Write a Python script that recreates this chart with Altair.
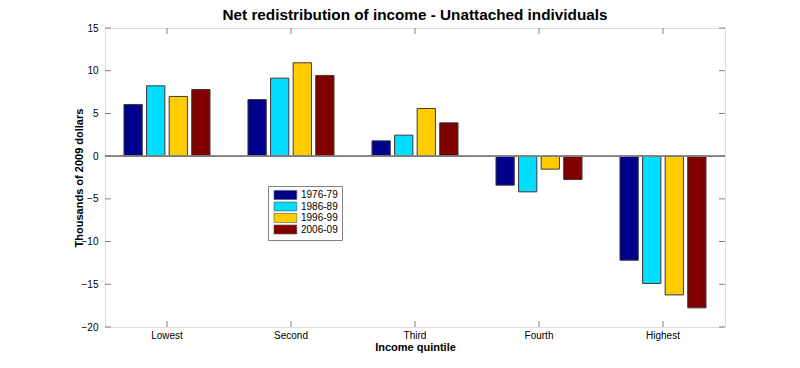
import altair as alt
import pandas as pd

quintiles = ["Lowest", "Second", "Third", "Fourth", "Highest"]
periods = ["1976-79", "1986-89", "1996-99", "2006-09"]
v_1976 = [6.05, 6.63, 1.79, -3.40, -12.18]
v_1986 = [8.23, 9.13, 2.46, -4.18, -14.90]
v_1996 = [6.99, 10.93, 5.58, -1.52, -16.24]
v_2006 = [7.80, 9.45, 3.90, -2.73, -17.76]
y_tick_values = [-20, -15, -10, -5, 0, 5, 10, 15]
colors = ["#00008C", "#00DDFF", "#FFCC00", "#800000"]

rows = []
for p, vals in zip(periods, [v_1976, v_1986, v_1996, v_2006]):
    for q, v in zip(quintiles, vals):
        rows.append({"quintile": q, "period": p, "value": v})
df = pd.DataFrame(rows)
df_q = pd.DataFrame({"quintile": quintiles})
df_y = pd.DataFrame({"value": y_tick_values})

W, H = 620, 299
FONT = "Liberation Sans"
GRAY = "#808080"

xscale = alt.Scale(domain=quintiles, paddingInner=0, paddingOuter=0)
yscale = alt.Scale(domain=[-20, 15], nice=False, zero=False)

xenc = alt.X("quintile:N", scale=xscale, sort=quintiles,
             axis=alt.Axis(title="Income quintile", labelAngle=0, ticks=False, domain=False,
                           labelPadding=3, labelFontSize=10, labelFont=FONT, labelColor="black",
                           titleFont=FONT, titleFontSize=11, titleFontWeight="bold",
                           titleColor="black", titleY=20, titleBaseline="middle"))
yenc = alt.Y("value:Q", scale=yscale,
             axis=alt.Axis(title="Thousands of 2009 dollars", values=y_tick_values, ticks=False,
                           domain=False, grid=False, labelPadding=7, labelFontSize=10,
                           labelFont=FONT, labelColor="black", titleFont=FONT, titleFontSize=11,
                           titleFontWeight="bold", titleColor="black", titleX=-26,
                           titleBaseline="middle"))

bars = alt.Chart(df).mark_bar(stroke="#3a3a3a", strokeWidth=1).encode(
    x=xenc,
    xOffset=alt.XOffset("period:N", sort=periods,
                        scale=alt.Scale(paddingInner=0.19, paddingOuter=0.84)),
    y=yenc,
    color=alt.Color("period:N", scale=alt.Scale(domain=periods, range=colors),
                    legend=alt.Legend(title=None, orient="none", legendX=163, legendY=158,
                                      symbolType="M-1,-1.5H6.6V1.5H-1Z", symbolSize=36,
                                      symbolStrokeColor="#555555", symbolStrokeWidth=0.6,
                                      labelFont=FONT, labelFontSize=10, labelColor="black",
                                      labelOffset=19, rowPadding=-0.5, padding=4,
                                      strokeColor=GRAY, fillColor="white")),
)

zero = alt.Chart(df_q).mark_rule(color=GRAY, strokeWidth=1).encode(y=alt.datum(0, scale=yscale))

xt_bottom = alt.Chart(df_q).mark_rule(color=GRAY).encode(
    x=alt.X("quintile:N", bandPosition=0.5), y=alt.value(H), y2=alt.value(H - 6))
xt_top = alt.Chart(df_q).mark_rule(color=GRAY).encode(
    x=alt.X("quintile:N", bandPosition=0.5), y=alt.value(0), y2=alt.value(6))
yt_left = alt.Chart(df_y).mark_rule(color=GRAY).encode(
    y="value:Q", x=alt.value(0), x2=alt.value(6))
yt_right = alt.Chart(df_y).mark_rule(color=GRAY).encode(
    y="value:Q", x=alt.value(W), x2=alt.value(W - 6))

chart = alt.layer(bars, zero, xt_bottom, xt_top, yt_left, yt_right).properties(
    width=W, height=H,
    title=alt.TitleParams("Net redistribution of income - Unattached individuals",
                          font=FONT, fontSize=15.3, fontWeight="bold", color="black",
                          anchor="middle", offset=0),
    autosize=alt.AutoSizeParams(type="none"),
    padding={"left": 97, "top": 20, "right": 60, "bottom": 30},
).configure_view(stroke=GRAY, strokeWidth=1.2).configure(background="white")

chart.save("out.html", embed_options={"renderer": "svg", "actions": False})
